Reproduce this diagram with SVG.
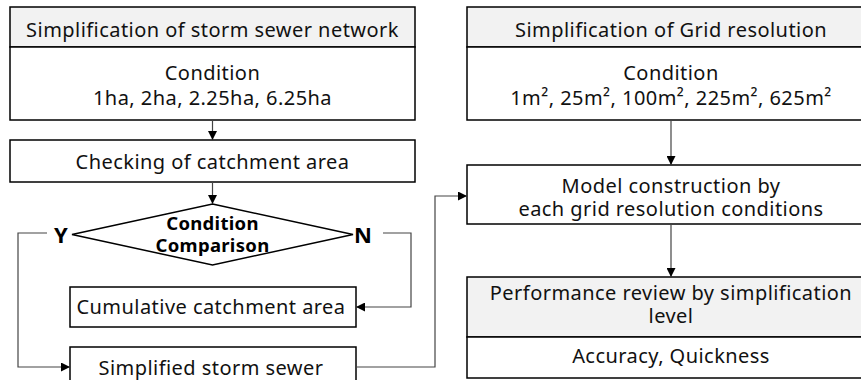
<svg xmlns="http://www.w3.org/2000/svg" width="861" height="380" viewBox="0 0 861 380">
<defs>
<marker id="arr" viewBox="0 0 10 10" refX="10" refY="5" markerWidth="9" markerHeight="9" markerUnits="userSpaceOnUse" orient="auto">
<path d="M0,0 L10,5 L0,10 z" fill="#000"/>
</marker>
<style>
.box{fill:#fff;stroke:#000;stroke-width:1.5}
.hdr{fill:#f2f2f2;stroke:#000;stroke-width:1.5}
.t{font-family:"Noto Sans","Open Sans",sans-serif;font-size:20px;letter-spacing:0.45px;fill:#111;text-anchor:middle}
.b{font-family:"Noto Sans","Open Sans",sans-serif;font-size:18.5px;letter-spacing:0.3px;font-weight:bold;fill:#000;text-anchor:middle}
.yn{font-family:"Noto Sans","Open Sans",sans-serif;font-size:22px;font-weight:bold;fill:#000;text-anchor:middle}
.c{fill:none;stroke:#444;stroke-width:1.2}
</style>
</defs>
<g id="storm-sewer">
<rect class="hdr" x="10" y="7" width="405" height="40"/>
<rect class="box" x="10" y="47" width="405" height="73"/>
<text class="t" x="212.5" y="37">Simplification of storm sewer network</text>
<text class="t"><tspan x="212.5" y="80">Condition</tspan><tspan x="212.5" y="105">1ha, 2ha, 2.25ha, 6.25ha</tspan></text>
</g>
<g id="checking">
<rect class="box" x="10" y="140" width="405" height="42"/>
<text class="t" x="212.5" y="169">Checking of catchment area</text>
</g>
<g id="comparison">
<polygon points="212.5,204 353,234.5 212.5,265 72,234.5" fill="#fff" stroke="#000" stroke-width="1.5"/>
<text class="b"><tspan x="212.5" y="230">Condition</tspan><tspan x="212.5" y="252">Comparison</tspan></text>
<text class="yn" x="61" y="243">Y</text>
<text class="yn" x="363" y="243">N</text>
</g>
<g id="cumulative">
<rect class="box" x="70" y="287" width="286" height="40"/>
<text class="t" x="211" y="314">Cumulative catchment area</text>
</g>
<g id="simplified">
<rect class="box" x="70" y="347" width="286" height="40"/>
<text class="t" x="211" y="375">Simplified storm sewer</text>
</g>
<g id="grid">
<rect class="hdr" x="467" y="7" width="400" height="40"/>
<rect class="box" x="467" y="47" width="400" height="73"/>
<text class="t" x="671" y="37">Simplification of Grid resolution</text>
<text class="t"><tspan x="671" y="80">Condition</tspan><tspan x="671" y="105">1m², 25m², 100m², 225m², 625m²</tspan></text>
</g>
<g id="model">
<rect class="box" x="467" y="165" width="400" height="59"/>
<text class="t"><tspan x="671" y="193">Model construction by</tspan><tspan x="671" y="216">each grid resolution conditions</tspan></text>
</g>
<g id="performance">
<rect class="hdr" x="467" y="277" width="400" height="60"/>
<rect class="box" x="467" y="337" width="400" height="41"/>
<text class="t"><tspan x="671" y="300">Performance review by simplification</tspan><tspan x="671" y="323">level</tspan></text>
<text class="t" x="671" y="363">Accuracy, Quickness</text>
</g>
<g id="connectors">
<line class="c" x1="212.5" y1="120" x2="212.5" y2="140" marker-end="url(#arr)"/>
<line class="c" x1="212.5" y1="182" x2="212.5" y2="204" marker-end="url(#arr)"/>
<polyline class="c" points="47,233 18,233 18,367 70,367" marker-end="url(#arr)"/>
<polyline class="c" points="383,233 411,233 411,307 356,307" marker-end="url(#arr)"/>
<polyline class="c" points="356,367 435,367 435,196 467,196" marker-end="url(#arr)"/>
<line class="c" x1="671" y1="120" x2="671" y2="165" marker-end="url(#arr)"/>
<line class="c" x1="671" y1="224" x2="671" y2="277" marker-end="url(#arr)"/>
</g>
</svg>
